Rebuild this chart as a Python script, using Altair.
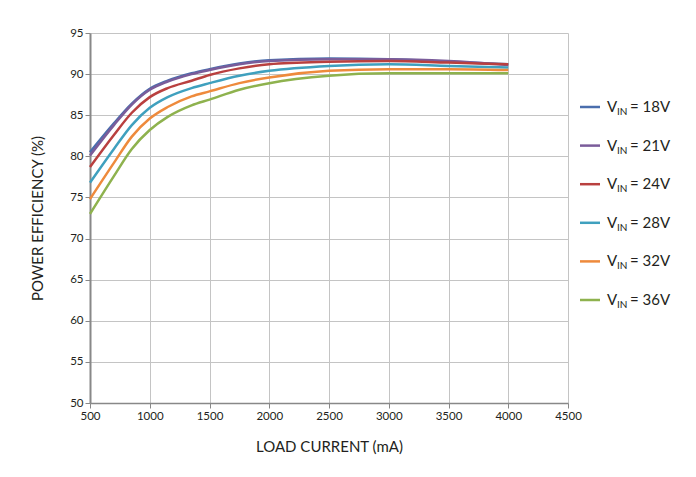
import altair as alt
import pandas as pd

load_ma = [500, 700, 850, 1000, 1150, 1350, 1500, 1750, 2000, 2500, 3000, 3500, 4000]
eff_18 = [80.5, 84.0, 86.4, 88.2, 89.2, 90.1, 90.6, 91.3, 91.7, 91.9, 91.8, 91.5, 91.2]
eff_21 = [80.1, 83.8, 86.3, 88.1, 89.1, 90.0, 90.5, 91.2, 91.6, 91.8, 91.8, 91.6, 91.1]
eff_24 = [78.7, 82.6, 85.3, 87.2, 88.3, 89.2, 89.9, 90.7, 91.2, 91.5, 91.6, 91.4, 91.2]
eff_28 = [76.8, 80.9, 83.8, 85.9, 87.2, 88.3, 88.9, 89.8, 90.4, 91.0, 91.2, 91.0, 90.8]
eff_32 = [74.8, 79.2, 82.4, 84.6, 86.0, 87.3, 87.9, 88.9, 89.6, 90.4, 90.6, 90.6, 90.5]
eff_36 = [73.0, 77.6, 80.9, 83.2, 84.8, 86.2, 86.9, 88.1, 88.9, 89.8, 90.1, 90.1, 90.1]

series_names = ["18V", "21V", "24V", "28V", "32V", "36V"]
series_values = [eff_18, eff_21, eff_24, eff_28, eff_32, eff_36]
colors = ["#4A6EAD", "#7A5C9A", "#B9403F", "#3FA0BE", "#EE8A3C", "#8EB24E"]

rows = []
for name, vals in zip(series_names, series_values):
    for x, v in zip(load_ma, vals):
        rows.append({"series": name, "load": x, "eff": v})
df = pd.DataFrame(rows)

legend_df = pd.DataFrame({"series": series_names, "eq": ["= " + s for s in series_names]})

FONT = "Lato"
color_scale = alt.Scale(domain=series_names, range=colors)

lines = alt.Chart(df).mark_line(strokeWidth=2.5, interpolate="monotone").encode(
    x=alt.X("load:Q", scale=alt.Scale(domain=[500, 4500], nice=False),
            axis=alt.Axis(title="LOAD CURRENT (mA)", values=list(range(500, 4501, 500)),
                          format="d", labelFlush=False, titlePadding=18)),
    y=alt.Y("eff:Q", scale=alt.Scale(domain=[50, 95], nice=False),
            axis=alt.Axis(title="POWER EFFICIENCY (%)", values=list(range(50, 96, 5)),
                          labelFlush=False, titlePadding=24)),
    color=alt.Color("series:N", scale=color_scale, legend=None),
    order=alt.Order("series:N", sort="descending"),
)

leg_y = alt.Y("series:N", axis=None, sort=series_names,
              scale=alt.Scale(type="point", domain=series_names, range=[74, 267], padding=0))

leg_rule = alt.Chart(legend_df).mark_rule(strokeWidth=2.5).encode(
    x=alt.value(490), x2=alt.value(510), y=leg_y,
    color=alt.Color("series:N", scale=color_scale, legend=None),
)
leg_v = alt.Chart(legend_df).mark_text(align="left", baseline="middle", fontSize=15,
                                       font=FONT, color="#231F20").encode(
    x=alt.value(517), y=leg_y, text=alt.value("V"))
leg_in = alt.Chart(legend_df).mark_text(align="left", baseline="middle", fontSize=10,
                                        font=FONT, color="#231F20", dy=5).encode(
    x=alt.value(527), y=leg_y, text=alt.value("IN"))
leg_eq = alt.Chart(legend_df).mark_text(align="left", baseline="middle", fontSize=15,
                                        font=FONT, color="#231F20").encode(
    x=alt.value(540), y=leg_y, text="eq:N")

chart = alt.layer(lines, leg_rule, leg_v, leg_in, leg_eq).resolve_scale(
    y="independent"
).properties(
    width=478, height=370,
    autosize=alt.AutoSizeParams(type="none"),
    padding={"left": 82, "top": 25, "right": 120, "bottom": 66},
    background="white",
).configure_view(strokeOpacity=0).configure_axis(
    labelFont=FONT, titleFont=FONT, labelFontSize=11.5, titleFontSize=15,
    labelColor="#231F20", titleColor="#231F20", titleFontWeight="normal",
    gridColor="#C4C4C4", gridWidth=1, domainColor="#888888", tickColor="#888888",
    tickSize=5, labelPadding=2,
).configure_axisY(domainWidth=2).configure_axisX(domainWidth=1.5)

chart.save("out.html", embed_options={"renderer": "svg", "actions": False})
